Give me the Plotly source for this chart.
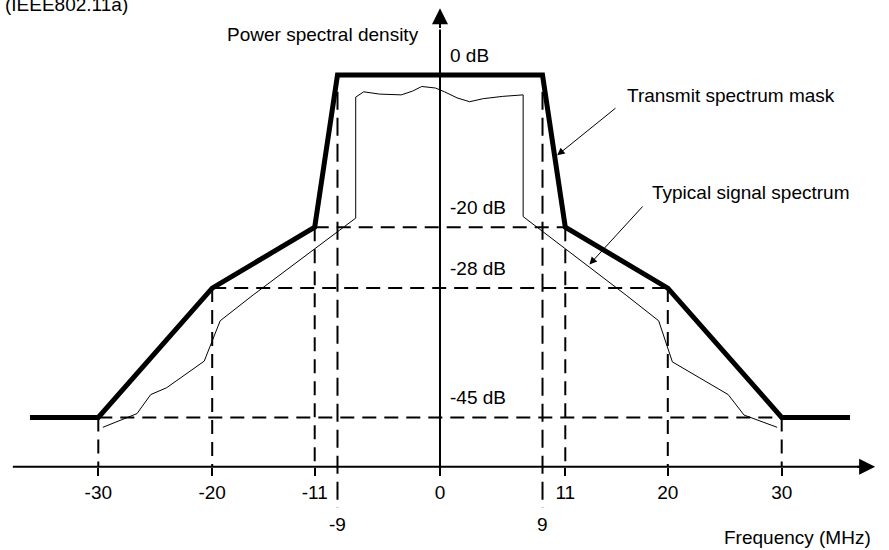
import plotly.graph_objects as go

# transmit spectrum mask (IEEE802.11a), MHz / dB
mask_freq = [-36, -30, -20, -11, -9, 9, 11, 20, 30, 36]
mask_db = [-45, -45, -28, -20, 0, 0, -20, -28, -45, -45]

# typical signal spectrum
signal_freq = [-29.6, -26.6, -25.4, -24.0, -20.7, -19.3, -16.4, -7.4, -7.4, -6.7, -5.3, -3.4,
               -2.4, -1.6, -0.4, 0.4, 1.5, 2.6, 3.8, 5.5, 7.3, 7.3, 16.4, 19.2, 20.4, 24.2,
               25.3, 26.7, 29.6]
signal_db = [-46.3, -44.5, -42.0, -41.1, -37.6, -32.3, -28.9, -18.8, -2.9, -2.2, -2.5, -2.6,
             -2.1, -1.5, -1.7, -2.2, -3.0, -3.5, -3.1, -2.8, -2.6, -18.6, -29.0, -32.3, -37.7,
             -41.1, -42.0, -44.7, -46.3]

# guide levels and the frequency where the mask reaches them
guide_freq = [11, 20, 30]
guide_db = [-20, -28, -45]
level_labels = ["0 dB", "-20 dB", "-28 dB", "-45 dB"]
level_db = [0, -20, -28, -45]

tick_vals = [-30, -20, -11, 0, 11, 20, 30]
tick_low = [-9, 9]

base_db = -51.5      # where the frequency axis sits
FONT = "Liberation Sans, Arial, Helvetica, sans-serif"
DASH = "14px,8px"

fig = go.Figure()

# dashed guides
for f, lv in zip(guide_freq, guide_db):
    fig.add_trace(go.Scatter(x=[-f, f], y=[lv, lv], mode="lines",
                             line=dict(color="black", width=2, dash=DASH), hoverinfo="skip"))
    for s in (-f, f):
        fig.add_trace(go.Scatter(x=[s, s], y=[lv, base_db], mode="lines",
                                 line=dict(color="black", width=2, dash=DASH), hoverinfo="skip"))
for f in tick_low:
    fig.add_trace(go.Scatter(x=[f, f], y=[-2.2, -56.9], mode="lines",
                             line=dict(color="black", width=2, dash="18px,8px"), hoverinfo="skip"))

# signal and mask
fig.add_trace(go.Scatter(x=signal_freq, y=signal_db, mode="lines",
                         line=dict(color="black", width=1), name="Typical signal spectrum"))
fig.add_trace(go.Scatter(x=mask_freq, y=mask_db, mode="lines",
                         line=dict(color="black", width=5), name="Transmit spectrum mask"))

# vertical axis (power)
fig.add_shape(type="line", x0=0, x1=0, y0=-52.6, y1=6, line=dict(color="black", width=2))
fig.add_annotation(x=0, y=8.8, ax=0, ay=6, axref="x", ayref="y", xref="x", yref="y",
                   text="", showarrow=True, arrowhead=2, arrowsize=1.6, arrowwidth=2,
                   arrowcolor="black")
# horizontal axis (frequency)
fig.add_shape(type="line", x0=-37.5, x1=37, y0=base_db, y1=base_db,
              line=dict(color="black", width=2))
fig.add_annotation(x=38.2, y=base_db, ax=36.5, ay=base_db, axref="x", ayref="y",
                   text="", showarrow=True, arrowhead=2, arrowsize=1.6, arrowwidth=2,
                   arrowcolor="black")

# level labels
for lab, lv in zip(level_labels, level_db):
    fig.add_annotation(x=0.7, y=lv, text=lab, showarrow=False, xanchor="left",
                       yanchor="middle", yshift=20, font=dict(size=19))

# lower tick labels for +-9
for f in tick_low:
    fig.add_annotation(x=f, y=(550 - 524) / 550, yref="paper", text=str(f), showarrow=False,
                       xanchor="center", yanchor="middle", font=dict(size=19))

# callouts
fig.add_annotation(x=10.08, y=-10.8, ax=15.54, ay=-4.19, axref="x", ayref="y", text="",
                   showarrow=True, arrowhead=2, arrowsize=1.5, arrowwidth=1, standoff=3,
                   arrowcolor="black")
fig.add_annotation(x=13.0, y=-25.1, ax=17.91, ay=-17.08, axref="x", ayref="y", text="",
                   showarrow=True, arrowhead=2, arrowsize=1.5, arrowwidth=1, standoff=2,
                   arrowcolor="black")

texts = [
    ("Transmit spectrum mask", 625 / 889, 1 - 95 / 550, "left"),
    ("Typical signal spectrum", 650 / 889, 1 - 193 / 550, "left"),
    ("Power spectral density", 421 / 889, 1 - 35 / 550, "right"),
    ("Frequency (MHz)", 873 / 889, 1 - 537 / 550, "right"),
]
for t, px, py, anc in texts:
    fig.add_annotation(x=px, y=py, xref="paper", yref="paper", text=t, showarrow=False,
                       xanchor=anc, yanchor="middle", font=dict(size=19))
fig.add_annotation(x=3 / 889, y=1 - 17 / 550, xref="paper", yref="paper", text="(IEEE802.11a)",
                   showarrow=False, xanchor="left", yanchor="bottom", font=dict(size=19))

fig.update_layout(
    width=889, height=550,
    margin=dict(l=0, r=0, t=0, b=0),
    paper_bgcolor="white", plot_bgcolor="white",
    showlegend=False,
    font=dict(family=FONT, color="black", size=19),
    xaxis=dict(range=[-440 / 11.39, 449 / 11.39], anchor="free",
               position=(550 - 467) / 550, showgrid=False, zeroline=False, showline=False,
               ticks="outside", ticklen=8, tickwidth=2, tickcolor="black",
               tickvals=tick_vals, ticktext=[str(v) for v in tick_vals],
               tickfont=dict(size=19), automargin=False, fixedrange=True),
    yaxis=dict(range=[-62.43, 9.87], visible=False, showgrid=False, zeroline=False,
               fixedrange=True),
)

# page margin off so the figure sits at the window's corner
fig.write_html("out.html", config={"displayModeBar": False},
               post_script="document.body.style.margin='0';document.body.style.overflow='hidden';")
